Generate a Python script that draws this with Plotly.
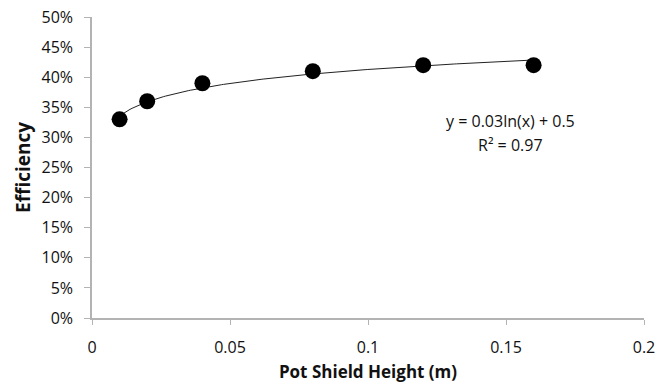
import numpy as np
import plotly.graph_objects as go

heights = [0.01, 0.02, 0.04, 0.08, 0.12, 0.16]
efficiency = [0.33, 0.36, 0.39, 0.41, 0.42, 0.42]
x_ticks = [0, 0.05, 0.1, 0.15, 0.2]
x_tick_labels = ["0", "0.05", "0.1", "0.15", "0.2"]
y_ticks = [i * 0.05 for i in range(11)]
y_tick_labels = [f"{i*5}%" for i in range(11)]

# logarithmic trend line fitted from the data
a, b = np.polyfit(np.log(heights), efficiency, 1)
xt = np.linspace(min(heights), max(heights), 200)
yt = a * np.log(xt) + b

FONT = "Open Sans, Calibri, Carlito, sans-serif"
AX = "#b3b3b3"

fig = go.Figure()
fig.add_trace(go.Scatter(x=xt, y=yt, mode="lines",
                         line=dict(color="#222222", width=1), hoverinfo="skip"))
fig.add_trace(go.Scatter(x=heights, y=efficiency, mode="markers",
                         marker=dict(color="black", size=16)))

fig.add_annotation(x=0.1515, y=0.327, xref="x", yref="y",
                   text="y = 0.03ln(x) + 0.5", showarrow=False,
                   font=dict(family=FONT, size=16, color="#111111"))
fig.add_annotation(x=0.1515, y=0.288, xref="x", yref="y",
                   text="R² = 0.97", showarrow=False,
                   font=dict(family=FONT, size=16, color="#111111"))

fig.update_layout(
    width=670, height=384, showlegend=False,
    plot_bgcolor="white", paper_bgcolor="white",
    margin=dict(l=92, r=26, t=17, b=66),
    font=dict(family=FONT, size=16, color="#111111"),
    xaxis=dict(range=[0, 0.2], tickvals=x_ticks, ticktext=x_tick_labels, automargin=False,
               showgrid=False, zeroline=False, showline=True, linecolor=AX, linewidth=1.5,
               ticks="outside", ticklen=5, tickcolor=AX, ticklabelstandoff=9,
               title=dict(text="<b>Pot Shield Height (m)</b>", standoff=9,
                          font=dict(family=FONT, size=17))),
    yaxis=dict(range=[0, 0.5], tickvals=y_ticks, ticktext=y_tick_labels, automargin=False,
               showgrid=False, zeroline=False, showline=True, linecolor=AX, linewidth=1.5,
               ticks="outside", ticklen=6, tickcolor=AX, ticklabelstandoff=8,
               title=dict(text="<b>Efficiency</b>", standoff=6,
                          font=dict(family=FONT, size=19))),
)

fig.write_html("out.html")
